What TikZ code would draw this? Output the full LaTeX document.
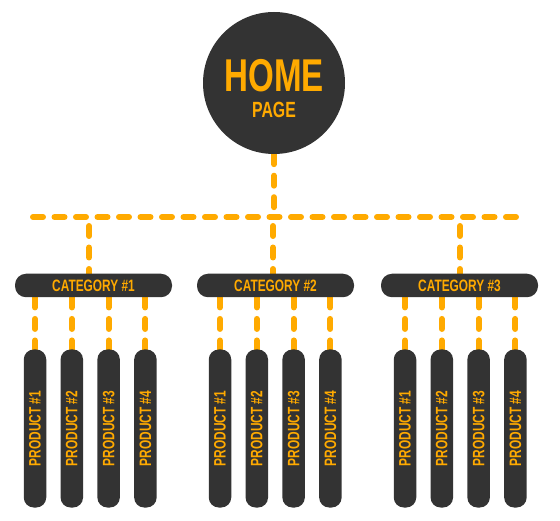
\documentclass[tikz,border=0pt]{standalone}
\usepackage{fontspec}
\usetikzlibrary{positioning,backgrounds}
\newfontfamily\chartfont[FakeStretch=0.72]{Liberation Sans}
\definecolor{boxgray}{HTML}{333333}
\definecolor{linkorange}{HTML}{FFAA00}

\begin{document}
\begin{tikzpicture}[x=1pt, y=-1pt,
    hub/.style={circle, fill=boxgray, minimum size=142pt, inner sep=0pt},
    hubtext/.style={text=linkorange, font=\chartfont\bfseries, inner sep=0pt, anchor=base},
    category/.style={fill=boxgray, rounded corners=11pt, minimum width=157pt, minimum height=23.5pt,
        inner sep=0pt, text=linkorange, font=\chartfont\bfseries\fontsize{16.5}{16.5}\selectfont},
    product/.style={fill=boxgray, rounded corners=10pt, minimum width=158pt, minimum height=22.5pt,
        inner sep=0pt, rotate=90, text=linkorange, font=\chartfont\bfseries\fontsize{16.5}{16.5}\selectfont},
    link/.style={draw=linkorange, line width=6pt, line cap=round, dash pattern=on 10pt off 11.5pt}]
    \useasboundingbox (0,0) rectangle (560,521);

    % Home page circle
    \node[hub] (home) at (274,83) {};
    \node[hubtext] (hometitle) at (274,92) {\fontsize{46}{46}\selectfont HOME};
    \node[hubtext] (pagetitle) at (274,117.5) {\fontsize{22}{22}\selectfont PAGE};

    % Categories
    \node[category] (cat1) at (93.5,285.5) {CATEGORY \#1};
    \node[category] (cat2) at (275.5,285.5) {CATEGORY \#2};
    \node[category] (cat3) at (459.5,285.5) {CATEGORY \#3};

    % Products
    \foreach \c/\x in {1/35,2/220,3/405}
        \foreach \p in {1,...,4}
            \node[product] (p\c\p) at ({\x+36.8*(\p-1)},428.5) {PRODUCT \#\p};

    % Dashed connectors behind the boxes
    \begin{scope}[on background layer]
        \coordinate (busL) at (33,217);
        \coordinate (busR) at (516,217);
        \coordinate (drop1) at (89,226);
        \coordinate (drop2) at (273,226);
        \coordinate (drop3) at (460,226);
        \draw[link] (busL) -- (busR);
        \draw[link] (home.south) -- (home.south |- busL);
        \foreach \c in {1,2,3}
            \draw[link] (drop\c) -- (drop\c |- cat\c.center);
        \foreach \c in {1,2,3}
            \foreach \p in {1,...,4}
                \draw[link] (p\c\p.center |- cat\c.south) -- (p\c\p.center);
    \end{scope}
\end{tikzpicture}
\end{document}
